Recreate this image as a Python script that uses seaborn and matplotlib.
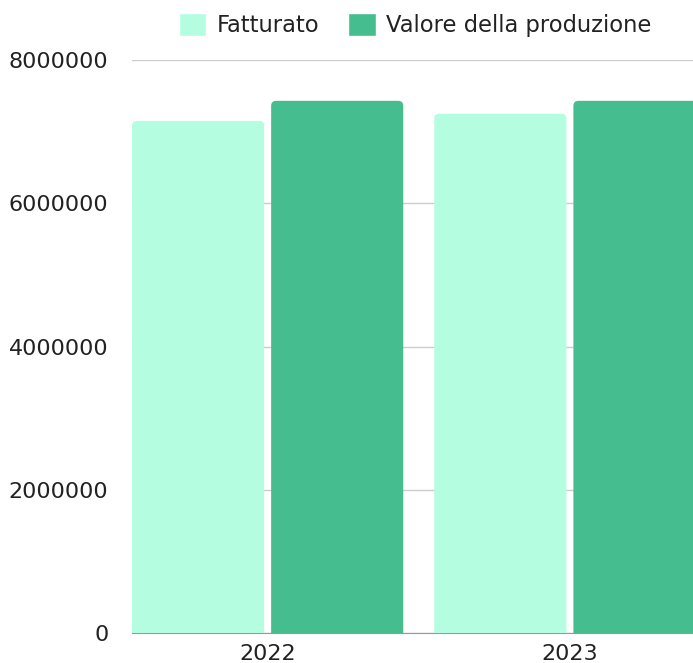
import matplotlib
matplotlib.use('Agg')
from matplotlib import pyplot as plt
from matplotlib.patches import FancyBboxPatch, Patch
import seaborn as sns
import pandas as pd

anni = ['2022', '2023']
fatturato = [7150000, 7250000]
valore_produzione = [7430000, 7430000]
serie = ['Fatturato', 'Valore della produzione']
colori = ['#b4fde1', '#46bd8e']

df = pd.DataFrame({
    'anno': anni * 2,
    'valore': fatturato + valore_produzione,
    'serie': [serie[0]] * 2 + [serie[1]] * 2,
})

sns.set_style('white')
plt.rcParams['font.family'] = ['DejaVu Sans']

W, H = 693, 663
fig = plt.figure(figsize=(W / 100, H / 100), dpi=100)
ax = fig.add_axes([132 / W, 1 - 633 / H, (693 - 132) / W, (633 - 60) / H])

sns.barplot(data=df, x='anno', y='valore', hue='serie', palette=colori,
            width=0.9205, gap=0.0504, ax=ax, legend=False, saturation=1)

ax.set_ylim(0, 8000000)
ax.set_xlim(-0.4487, (693 - 268) / 302)

# barre con angoli superiori arrotondati
px_x = 1 / 302
px_y = 8000000 / 573
r = 5 * px_x
for p in list(ax.patches):
    x, w, h = p.get_x(), p.get_width(), p.get_height()
    c = p.get_facecolor()
    p.remove()
    extra = 10 * px_y
    nb = FancyBboxPatch((x, -extra), w, h + extra,
                        boxstyle=f'round,pad=0,rounding_size={r}',
                        mutation_aspect=px_y / px_x,
                        facecolor=c, edgecolor='none', zorder=3)
    ax.add_patch(nb)

ax.set_yticks([0, 2000000, 4000000, 6000000, 8000000])
ax.set_yticklabels(['0', '2000000', '4000000', '6000000', '8000000'])
ax.yaxis.grid(True, color='#cccccc', linewidth=1)
ax.set_axisbelow(True)
ax.tick_params(axis='y', length=0, pad=17, labelsize=16, labelcolor='#222222')
ax.tick_params(axis='x', length=0, pad=8, labelsize=16, labelcolor='#222222')
ax.set_xlabel('')
ax.set_ylabel('')
for s in ['top', 'right', 'left']:
    ax.spines[s].set_visible(False)
ax.spines['bottom'].set_color('#999999')
ax.spines['bottom'].set_zorder(2)

handles = [Patch(facecolor=colori[0], label=serie[0]),
           Patch(facecolor=colori[1], label=serie[1])]
fig.legend(handles=handles, loc='center', bbox_to_anchor=(415 / W, 1 - 25 / H),
           ncol=2, frameon=False, fontsize=16.3, handlelength=1.2, handleheight=1.2,
           handletextpad=0.45, columnspacing=1.3, labelcolor='#222222')

fig.savefig('out.png', dpi=100)
